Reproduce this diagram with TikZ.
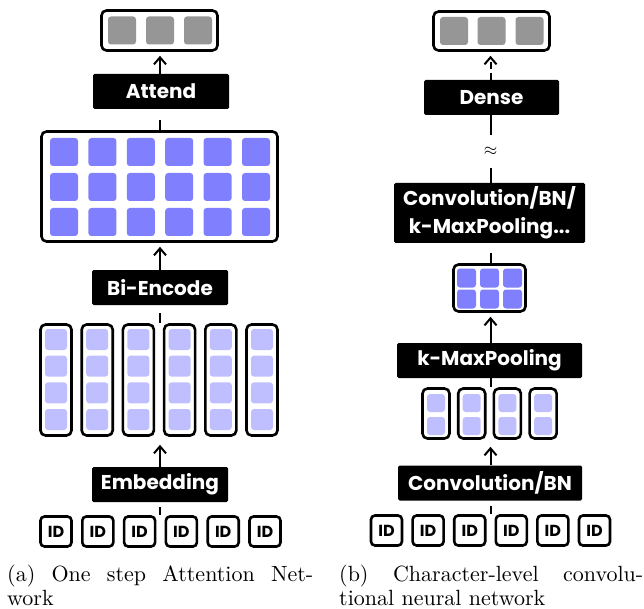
\documentclass[tikz,border=0pt]{standalone}
\usepackage{fontspec}
\newfontfamily\labfam{Poppins}
\newfontfamily\capfam{lmroman10-regular.otf}
\usetikzlibrary{arrows.meta}
\definecolor{encblue}{RGB}{128,128,255}
\definecolor{embblue}{RGB}{191,191,255}
\definecolor{outgray}{RGB}{150,150,150}
\tikzset{
  holder/.style={draw, line width=2.6pt, rounded corners=5pt, fill=white, inner sep=0pt},
  layer/.style={fill=black, rounded corners=1.5pt, text=white, inner sep=0pt,
    minimum height=35pt, align=center,
    font=\labfam\bfseries\fontsize{20}{28}\selectfont},
  cell/.style={rounded corners=3pt, inner sep=0pt},
  idbox/.style={holder, rounded corners=4pt, minimum width=31pt, minimum height=30pt,
    font=\labfam\bfseries\fontsize{16}{16}\selectfont},
  link/.style={line width=2pt},
  flow/.style={link, -{Straight Barb[length=7pt,width=12pt]}, shorten >=4pt},
  caption/.style={anchor=north west, inner sep=0pt, text width=306pt, align=justify,
    font=\capfam\fontsize{22}{24.5}\selectfont},
}
\begin{document}
\begin{tikzpicture}[x=1pt,y=-1pt]
\useasboundingbox (0,0) rectangle (644,609);

% ---------------- (a) one step attention network ----------------
\coordinate (aaxis) at (160,0);
\node[holder, minimum width=116pt, minimum height=40pt] (aout) at (159.5,30.5) {};
\foreach \i/\x in {1/122,2/160,3/198}
  \node[cell, fill=outgray, minimum size=28pt] (ao\i) at (\x,30.5) {};
\node[layer, minimum width=136pt] (aatt) at (161,91.5) {Attend};
\node[holder, minimum width=236pt, minimum height=110pt] (aenc) at (159.5,186.5) {};
\foreach \c in {0,...,5}
  \foreach \r in {0,1,2}
    \node[cell, fill=encblue, minimum size=28pt] (ae\c\r) at ({64+38.4*\c},{152+35*\r}) {};
\node[layer, minimum width=136pt] (abie) at (160,287.5) {Bi-Encode};
\foreach \c in {1,...,6} {
  \node[holder, minimum width=31pt, minimum height=111pt] (acol\c) at ({56+41.2*(\c-1)},380) {};
  \foreach \r in {0,...,3}
    \node[cell, fill=embblue, minimum width=22pt, minimum height=21pt]
      (acell\c\r) at ({56+41.2*(\c-1)},{339.5+26.67*\r}) {};
}
\node[layer, minimum width=136pt] (aemb) at (160,484.5) {Embedding};
\foreach \c in {1,...,6}
  \node[idbox] (aid\c) at ({56+41.8*(\c-1)},531.5) {ID};

\draw[flow] (aaxis |- aatt.north) -- (aaxis |- aout.south);
\draw[link, dash pattern=on 10pt off 12pt] (aaxis |- aenc.north) -- (aaxis |- aatt.south);
\draw[flow] (aaxis |- abie.north) -- (aaxis |- aenc.south);
\draw[link, dash pattern=on 10pt off 12pt] (aaxis |- acol1.north) -- (aaxis |- abie.south);
\draw[flow, shorten >=8pt] (aaxis |- aemb.north) -- (aaxis |- acol1.south);
\draw[link, dash pattern=on 8pt off 10pt] (aaxis |- aid1.north) -- (aaxis |- aemb.south);

\node[caption] (capa) at (7,564.5) {(a) One step Attention Net-\linebreak work};

% ---------------- (b) character-level CNN ----------------
\coordinate (baxis) at (490.5,0);
\node[holder, minimum width=116pt, minimum height=39pt] (bout) at (491.5,31) {};
\foreach \i/\x in {1/454,2/491.5,3/529.5}
  \node[cell, fill=outgray, minimum size=28pt] (bo\i) at (\x,31) {};
\node[layer, minimum width=135pt] (bden) at (491.5,97.5) {Dense};
\node[inner xsep=2pt, inner ysep=0pt, minimum height=33pt,
  font=\fontsize{18}{18}\selectfont] (bapprox) at (490.5,151.5) {$\approx$};
\node[layer, minimum width=191pt, minimum height=60pt] (bconv3) at (489.5,213)
  {Convolution/BN/\\k-MaxPooling...};
\node[holder, minimum width=72pt, minimum height=47pt] (bgrid) at (489.5,288) {};
\foreach \c/\x in {0/466.5,1/489.5,2/512.5}
  \foreach \r/\y in {0/278,1/299}
    \node[cell, fill=encblue, minimum size=19pt] (bg\c\r) at (\x,\y) {};
\node[layer, minimum width=185pt] (bpool) at (489.5,360.5) {k-MaxPooling};
\foreach \c in {1,...,4} {
  \node[holder, minimum width=27pt, minimum height=50pt] (bcol\c) at ({436+35.7*(\c-1)},413.5) {};
  \foreach \r/\y in {0/403,1/426}
    \node[cell, fill=embblue, minimum size=18pt] (bcell\c\r) at ({436+35.7*(\c-1)},\y) {};
}
\node[layer, minimum width=184pt] (bconv) at (490,483) {Convolution/BN};
\foreach \c in {1,...,6}
  \node[idbox] (bid\c) at ({386.5+41.6*(\c-1)},530.5) {ID};

\draw[flow, dash pattern=on 7pt off 4pt] (baxis |- bden.north) -- (baxis |- bout.south);
\draw[link] (baxis |- bapprox.north) -- (baxis |- bden.south);
\draw[link] (baxis |- bconv3.north) -- (baxis |- bapprox.south);
\draw[link, dash pattern=on 10pt off 12pt] (baxis |- bgrid.north) -- (baxis |- bconv3.south);
\draw[flow] (baxis |- bpool.north) -- (baxis |- bgrid.south);
\draw[link] (baxis |- bcol1.north) -- (baxis |- bpool.south);
\draw[flow, shorten >=7pt] (baxis |- bconv.north) -- (baxis |- bcol1.south);
\draw[link, dash pattern=on 8pt off 10pt] (baxis |- bid1.north) -- (baxis |- bconv.south);

\node[caption, text width=304pt] (capb) at (339,564.5)
  {(b) Character-level convolu-\linebreak tional neural network};
\end{tikzpicture}
\end{document}
